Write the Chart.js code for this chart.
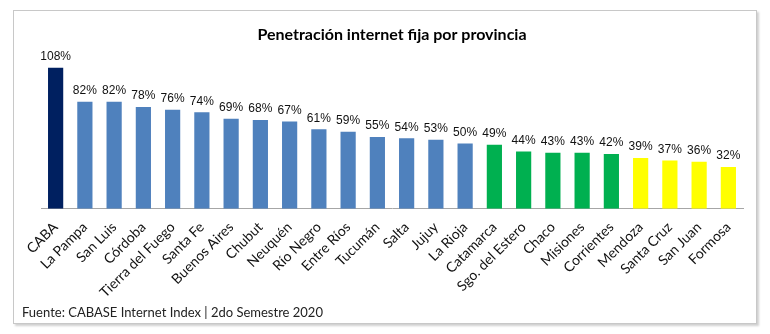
<!DOCTYPE html>
<html lang="es">
<head>
    <meta charset="UTF-8">
    <title>Penetración internet fija por provincia</title>
    <script src="https://cdn.jsdelivr.net/npm/chart.js"></script>
    <style>
        body {
            margin: 0;
            padding: 0;
            background-color: #fff;
        }
        .wrap {
            position: relative;
            width: 770px;
            height: 334px;
        }
        .frame {
            position: absolute;
            left: 13px;
            top: 10px;
            width: 742px;
            height: 312px;
            border: 1px solid #c8c8c8;
            box-shadow: 2px 2px 2px #d0d0d0;
        }
        .chart-box {
            position: absolute;
            left: 0;
            top: 0;
            width: 770px;
            height: 334px;
        }
        .source {
            position: absolute;
            left: 22px;
            top: 304px;
            font-family: Lato, sans-serif;
            font-size: 13px;
            color: #222;
        }
    </style>
</head>
<body>
    <div class="wrap">
        <div class="frame"></div>
        <div class="chart-box"><canvas id="provChart"></canvas></div>
        <div class="source">Fuente: CABASE Internet Index | 2do Semestre 2020</div>
    </div>
    <script>
        const provincias = ['CABA', 'La Pampa', 'San Luis', 'Córdoba', 'Tierra del Fuego', 'Santa Fe',
            'Buenos Aires', 'Chubut', 'Neuquén', 'Río Negro', 'Entre Ríos', 'Tucumán', 'Salta', 'Jujuy',
            'La Rioja', 'Catamarca', 'Sgo. del Estero', 'Chaco', 'Misiones', 'Corrientes', 'Mendoza',
            'Santa Cruz', 'San Juan', 'Formosa'];
        const penetracion = [108, 82, 82, 78, 76, 74, 69, 68, 67, 61, 59, 55, 54, 53, 50, 49, 44, 43, 43, 42, 39, 37, 36, 32];
        // grupo de color por provincia
        const grupo = ['caba', 'azul', 'azul', 'azul', 'azul', 'azul', 'azul', 'azul', 'azul', 'azul', 'azul', 'azul',
            'azul', 'azul', 'azul', 'verde', 'verde', 'verde', 'verde', 'verde', 'amarillo', 'amarillo', 'amarillo', 'amarillo'];
        const colores = { caba: '#002060', azul: '#4f81bd', verde: '#00b050', amarillo: '#ffff00' };

        // etiquetas de porcentaje arriba de cada barra
        const etiquetas = {
            id: 'etiquetas',
            afterDatasetsDraw(chart) {
                const ctx = chart.ctx;
                const meta = chart.getDatasetMeta(0);
                ctx.save();
                ctx.font = '12px "Liberation Sans", Arial, sans-serif';
                ctx.fillStyle = '#111';
                ctx.textAlign = 'center';
                ctx.textBaseline = 'bottom';
                meta.data.forEach(function(bar, i) {
                    ctx.fillText(penetracion[i] + '%', bar.x, bar.y - 5);
                });
                ctx.restore();
            }
        };

        new Chart(document.getElementById('provChart'), {
            type: 'bar',
            data: {
                labels: provincias,
                datasets: [{
                    data: penetracion,
                    backgroundColor: grupo.map(g => colores[g]),
                    categoryPercentage: 1,
                    barPercentage: 0.52
                }]
            },
            options: {
                responsive: true,
                maintainAspectRatio: false,
                animation: false,
                layout: {
                    padding: { left: 41, right: 27, top: 25, bottom: 31 }
                },
                plugins: {
                    legend: { display: false },
                    tooltip: { enabled: false },
                    title: {
                        display: true,
                        text: 'Penetración internet fija por provincia',
                        color: '#000',
                        font: { family: 'Lato', size: 16, weight: 'bold' },
                        padding: { top: 0, bottom: 8 }
                    }
                },
                scales: {
                    x: {
                        grid: { display: false },
                        border: { display: true, color: '#a6a6a6' },
                        ticks: {
                            color: '#111',
                            font: { family: 'Lato', size: 14 },
                            minRotation: 45,
                            maxRotation: 45,
                            autoSkip: false,
                            padding: 2
                        }
                    },
                    y: {
                        display: false,
                        min: 0,
                        max: 120
                    }
                }
            },
            plugins: [etiquetas]
        });
    </script>
</body>
</html>
